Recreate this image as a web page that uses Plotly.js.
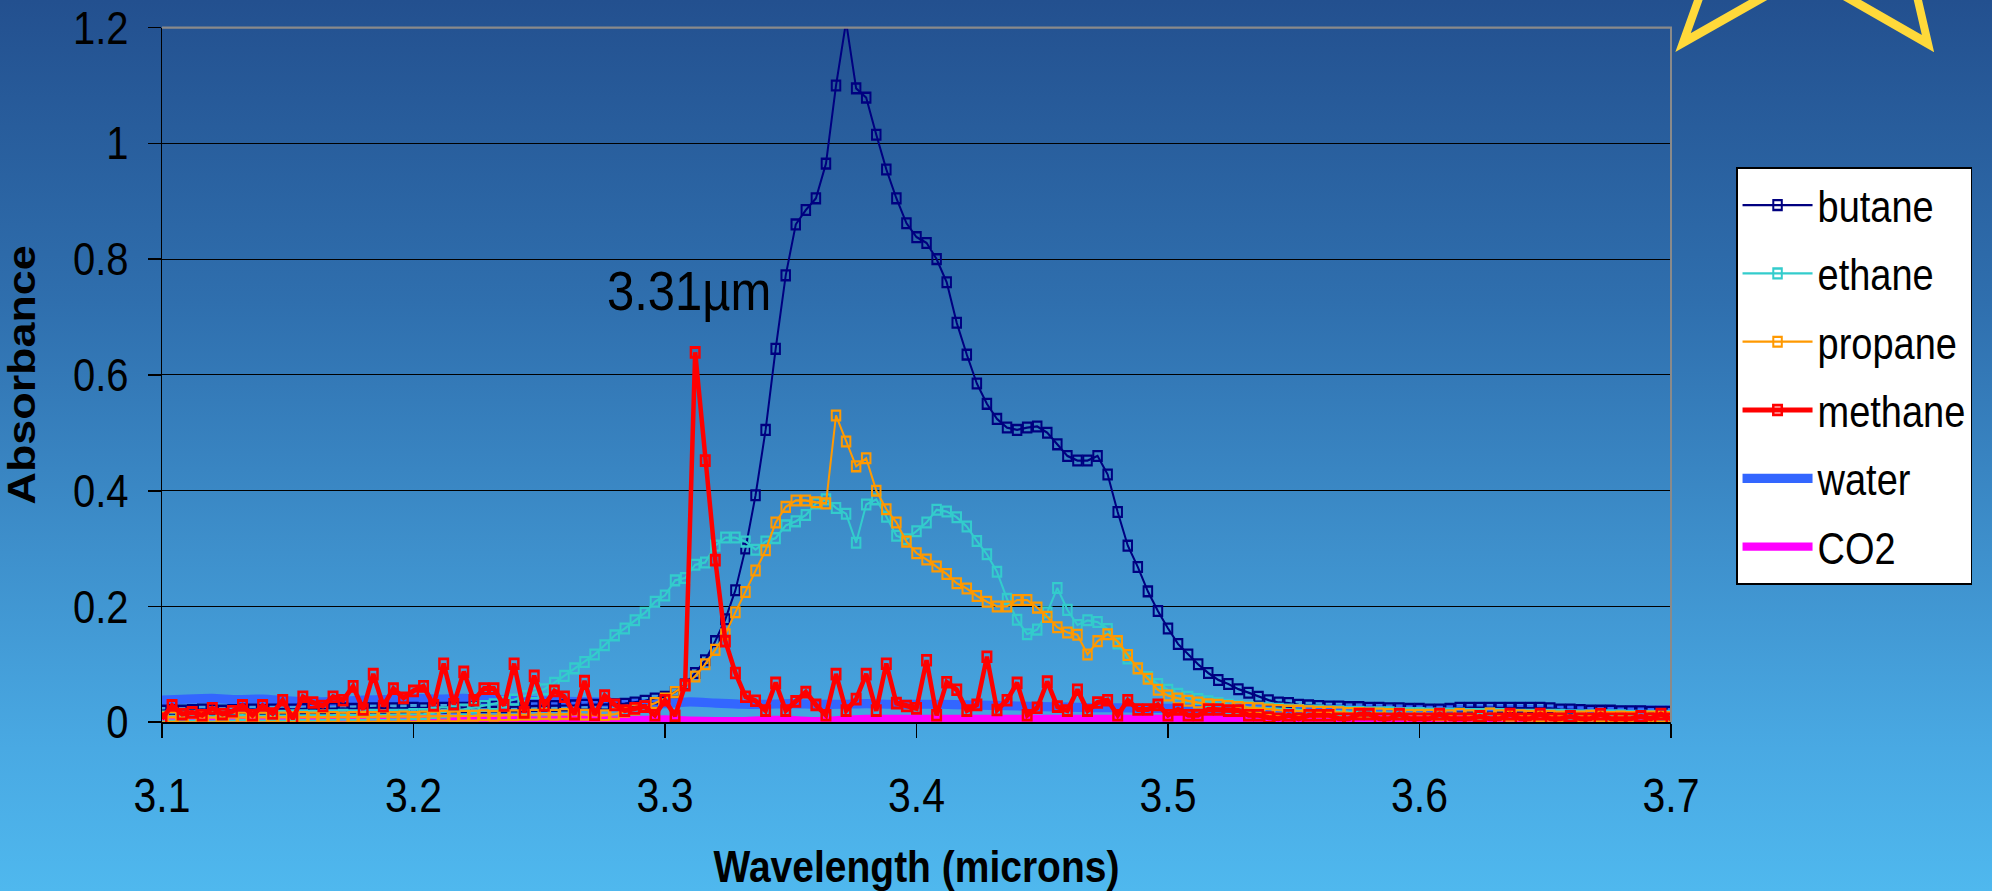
<!DOCTYPE html>
<html>
<head>
<meta charset="utf-8">
<script src="https://cdn.plot.ly/plotly-3.0.1.min.js"></script>
<style>
html,body{margin:0;padding:0;width:1992px;height:891px;overflow:hidden;
background:linear-gradient(to bottom,#23508f 0%,#2f6fae 34%,#3e90cc 62%,#49a9e3 84%,#4fb8ee 100%);}
#wrap{width:1992px;height:775px;transform:scaleY(1.15);transform-origin:0 0;}
</style>
</head>
<body>
<div id="wrap"><div id="chart"></div></div>
<script>
// ---- data ----
var wavelength = [
3.100,3.104,3.108,3.112,3.116,3.120,3.124,3.128,3.132,3.136,
3.140,3.144,3.148,3.152,3.156,3.160,3.164,3.168,3.172,3.176,
3.180,3.184,3.188,3.192,3.196,3.200,3.204,3.208,3.212,3.216,
3.220,3.224,3.228,3.232,3.236,3.240,3.244,3.248,3.252,3.256,
3.260,3.264,3.268,3.272,3.276,3.280,3.284,3.288,3.292,3.296,
3.300,3.304,3.308,3.312,3.316,3.320,3.324,3.328,3.332,3.336,
3.340,3.344,3.348,3.352,3.356,3.360,3.364,3.368,3.372,3.376,
3.380,3.384,3.388,3.392,3.396,3.400,3.404,3.408,3.412,3.416,
3.420,3.424,3.428,3.432,3.436,3.440,3.444,3.448,3.452,3.456,
3.460,3.464,3.468,3.472,3.476,3.480,3.484,3.488,3.492,3.496,
3.500,3.504,3.508,3.512,3.516,3.520,3.524,3.528,3.532,3.536,
3.540,3.544,3.548,3.552,3.556,3.560,3.564,3.568,3.572,3.576,
3.580,3.584,3.588,3.592,3.596,3.600,3.604,3.608,3.612,3.616,
3.620,3.624,3.628,3.632,3.636,3.640,3.644,3.648,3.652,3.656,
3.660,3.664,3.668,3.672,3.676,3.680,3.684,3.688,3.692,3.696,
3.700];

var butane = [
0.020,0.021,0.020,0.021,0.022,0.021,0.020,0.021,0.022,0.022,
0.021,0.022,0.023,0.022,0.023,0.024,0.023,0.024,0.024,0.023,
0.024,0.024,0.025,0.024,0.024,0.025,0.024,0.025,0.025,0.026,
0.025,0.026,0.026,0.027,0.026,0.027,0.027,0.028,0.028,0.028,
0.029,0.029,0.030,0.030,0.030,0.031,0.032,0.034,0.037,0.041,
0.044,0.052,0.065,0.085,0.107,0.140,0.178,0.228,0.300,0.392,
0.505,0.645,0.772,0.860,0.885,0.905,0.965,1.100,1.210,1.095,
1.079,1.015,0.955,0.905,0.862,0.838,0.828,0.800,0.760,0.690,
0.635,0.585,0.550,0.524,0.509,0.505,0.509,0.511,0.500,0.480,
0.460,0.452,0.452,0.460,0.428,0.363,0.305,0.268,0.226,0.192,
0.162,0.135,0.117,0.100,0.085,0.073,0.066,0.057,0.051,0.044,
0.038,0.034,0.033,0.030,0.029,0.028,0.027,0.027,0.026,0.026,
0.025,0.025,0.024,0.024,0.023,0.023,0.022,0.022,0.023,0.025,
0.025,0.025,0.025,0.025,0.025,0.025,0.025,0.025,0.024,0.022,
0.022,0.021,0.020,0.020,0.020,0.019,0.019,0.019,0.018,0.018,
0.018];

var ethane = [
0.010,0.011,0.010,0.011,0.011,0.010,0.011,0.011,0.012,0.011,
0.011,0.012,0.011,0.012,0.012,0.011,0.012,0.012,0.013,0.012,
0.012,0.013,0.012,0.013,0.013,0.014,0.014,0.016,0.017,0.019,
0.022,0.025,0.028,0.031,0.035,0.039,0.045,0.050,0.057,0.068,
0.080,0.093,0.104,0.117,0.133,0.150,0.162,0.176,0.189,0.208,
0.219,0.245,0.249,0.272,0.276,0.305,0.319,0.319,0.312,0.298,
0.312,0.318,0.340,0.347,0.358,0.378,0.385,0.370,0.360,0.310,
0.376,0.385,0.355,0.322,0.316,0.330,0.345,0.367,0.364,0.354,
0.338,0.313,0.290,0.260,0.213,0.177,0.152,0.160,0.190,0.232,
0.194,0.168,0.176,0.173,0.161,0.136,0.110,0.093,0.078,0.066,
0.056,0.049,0.044,0.040,0.036,0.033,0.030,0.028,0.026,0.025,
0.024,0.023,0.022,0.021,0.020,0.020,0.019,0.019,0.018,0.018,
0.017,0.017,0.017,0.016,0.016,0.016,0.015,0.015,0.015,0.015,
0.014,0.014,0.015,0.014,0.014,0.013,0.013,0.013,0.013,0.013,
0.012,0.012,0.012,0.012,0.012,0.012,0.011,0.011,0.011,0.011,
0.011];

var propane = [
0.008,0.009,0.008,0.008,0.009,0.008,0.009,0.008,0.008,0.009,
0.008,0.009,0.008,0.009,0.009,0.008,0.009,0.009,0.008,0.009,
0.009,0.009,0.010,0.009,0.010,0.009,0.010,0.010,0.011,0.010,
0.011,0.011,0.012,0.011,0.012,0.012,0.013,0.013,0.014,0.013,
0.014,0.014,0.013,0.012,0.012,0.014,0.018,0.022,0.027,0.033,
0.041,0.052,0.064,0.079,0.100,0.125,0.152,0.190,0.225,0.262,
0.297,0.345,0.372,0.383,0.383,0.380,0.378,0.530,0.485,0.442,
0.456,0.400,0.368,0.345,0.312,0.292,0.281,0.269,0.256,0.240,
0.231,0.218,0.208,0.200,0.200,0.211,0.211,0.198,0.182,0.164,
0.155,0.151,0.117,0.140,0.152,0.140,0.116,0.093,0.075,0.056,
0.046,0.041,0.037,0.034,0.031,0.030,0.028,0.026,0.025,0.024,
0.022,0.021,0.020,0.020,0.019,0.018,0.018,0.017,0.016,0.016,
0.015,0.015,0.014,0.014,0.013,0.013,0.013,0.012,0.012,0.014,
0.012,0.011,0.015,0.012,0.011,0.012,0.011,0.010,0.011,0.010,
0.010,0.010,0.011,0.010,0.009,0.010,0.009,0.009,0.010,0.009,
0.009];

var methane = [
0.006,0.029,0.014,0.017,0.012,0.024,0.014,0.019,0.029,0.012,
0.029,0.015,0.038,0.006,0.044,0.034,0.028,0.044,0.038,0.062,
0.022,0.083,0.028,0.058,0.042,0.054,0.062,0.029,0.101,0.031,
0.087,0.038,0.058,0.058,0.029,0.101,0.017,0.080,0.029,0.054,
0.044,0.014,0.071,0.013,0.046,0.030,0.020,0.024,0.027,0.012,
0.038,0.011,0.064,0.639,0.452,0.280,0.140,0.085,0.044,0.037,
0.020,0.068,0.020,0.036,0.052,0.030,0.012,0.083,0.020,0.040,
0.083,0.020,0.101,0.033,0.028,0.024,0.107,0.012,0.069,0.056,
0.020,0.030,0.113,0.021,0.038,0.068,0.012,0.025,0.070,0.027,
0.020,0.056,0.020,0.034,0.038,0.012,0.038,0.022,0.022,0.030,
0.012,0.022,0.012,0.012,0.022,0.022,0.020,0.020,0.012,0.012,
0.008,0.006,0.012,0.006,0.012,0.012,0.012,0.006,0.006,0.014,
0.014,0.006,0.006,0.014,0.006,0.006,0.006,0.014,0.006,0.006,
0.006,0.010,0.006,0.006,0.014,0.006,0.006,0.014,0.006,0.006,
0.010,0.006,0.006,0.014,0.006,0.006,0.006,0.010,0.006,0.014,
0.006];

var wavelengthCoarse = [
3.10,3.11,3.12,3.13,3.14,3.15,3.16,3.17,3.18,3.19,
3.20,3.21,3.22,3.23,3.24,3.25,3.26,3.27,3.28,3.29,
3.30,3.31,3.32,3.33,3.34,3.35,3.36,3.37,3.38,3.39,
3.40,3.41,3.42,3.43,3.44,3.45,3.46,3.47,3.48,3.49,
3.50,3.51,3.52,3.53,3.54,3.55,3.56,3.57,3.58,3.59,
3.60,3.61,3.62,3.63,3.64,3.65,3.66,3.67,3.68,3.69,
3.70];

var water = [
0.038,0.040,0.041,0.039,0.040,0.037,0.035,0.036,0.038,0.039,
0.041,0.040,0.041,0.039,0.038,0.037,0.036,0.035,0.034,0.032,
0.032,0.035,0.033,0.031,0.031,0.032,0.031,0.031,0.032,0.031,
0.031,0.031,0.030,0.029,0.028,0.027,0.026,0.025,0.025,0.024,
0.024,0.024,0.024,0.024,0.023,0.023,0.023,0.023,0.023,0.022,
0.022,0.022,0.022,0.022,0.022,0.021,0.021,0.021,0.021,0.021,
0.021];

var co2 = [
0.004,0.005,0.004,0.005,0.006,0.005,0.004,0.005,0.006,0.006,
0.005,0.006,0.006,0.005,0.004,0.003,0.004,0.005,0.003,0.004,
0.005,0.003,0.002,0.002,0.004,0.004,0.002,0.004,0.006,0.006,
0.006,0.006,0.006,0.006,0.006,0.006,0.006,0.006,0.006,0.006,
0.006,0.006,0.005,0.006,0.006,0.005,0.003,0.006,0.006,0.006,
0.006,0.006,0.004,0.003,0.005,0.006,0.004,0.006,0.006,0.005,
0.006];

var seriesNames = ['butane','ethane','propane','methane','water','CO2'];
var xTickLabels = ['3.1','3.2','3.3','3.4','3.5','3.6','3.7'];
var xTickValues = [3.1,3.2,3.3,3.4,3.5,3.6,3.7];
var peakLabel = '3.31µm';
var peakLabelPos = [3.3095, 0.746];

// ---- chart ----
var FONT = '"Liberation Sans", Arial, Helvetica, sans-serif';

function markerTrace(name, y, color, lw, mlw, rank) {
  return {
    type:'scatter', mode:'lines+markers', name:name, x:wavelength, y:y,
    legendgroup:name, legendrank:rank,
    line:{color:color, width:lw},
    marker:{symbol:'square-open', size:8.5, color:color, line:{color:color, width:mlw}}
  };
}

var data = [
  {type:'scatter', mode:'lines', name:seriesNames[4], x:wavelengthCoarse, y:water,
   legendgroup:'water', legendrank:5, line:{color:'#3366FF', width:8, shape:'spline', smoothing:0.6}},
  {type:'scatter', mode:'lines', name:seriesNames[5], x:wavelengthCoarse, y:co2,
   legendgroup:'co2', legendrank:6, line:{color:'#FF00FF', width:7, shape:'spline', smoothing:0.6}},
  markerTrace(seriesNames[0], butane, '#000080', 2, 2, 1),
  markerTrace(seriesNames[1], ethane, '#33CCCC', 2, 2, 2),
  markerTrace(seriesNames[2], propane, '#FF9900', 2, 2, 3),
  markerTrace(seriesNames[3], methane, '#FF0000', 4.5, 2.5, 4)
];

var layout = {
  width:1992, height:775,
  margin:{l:162, r:321, t:23.5, b:147.2, pad:0},
  paper_bgcolor:'rgba(0,0,0,0)', plot_bgcolor:'rgba(0,0,0,0)',
  font:{family:FONT, color:'#000'},
  showlegend:true,
  legend:{x:1.0431, xanchor:'left', y:0.7986, yanchor:'top',
          bgcolor:'#ffffff', bordercolor:'#000000', borderwidth:1.5,
          font:{family:FONT, size:38, color:'#000'},
          itemwidth:70, tracegroupgap:7, traceorder:'grouped'},
  xaxis:{range:[3.1,3.7], tickmode:'array', tickvals:xTickValues, ticktext:xTickLabels,
         ticks:'outside', ticklen:12, tickwidth:1.5, tickcolor:'#000',
         showline:true, linecolor:'#000', linewidth:1.5, showgrid:false, zeroline:false,
         tickfont:{family:FONT, size:41, color:'#000'}, ticklabelstandoff:15,
         automargin:false,
         title:{text:'Wavelength (microns)', standoff:39,
                font:{family:FONT, size:39, weight:'bold', color:'#000'}}},
  yaxis:{range:[0,1.2], dtick:0.2, tick0:0,
         ticks:'outside', ticklen:13, tickwidth:1.5, tickcolor:'#000',
         showline:true, linecolor:'#000', linewidth:1.5,
         showgrid:true, gridcolor:'#000', gridwidth:1, zeroline:false,
         tickfont:{family:FONT, size:40, color:'#000'}, ticklabelstandoff:11,
         automargin:false,
         title:{text:'Absorbance', standoff:25,
                font:{family:FONT, size:39, weight:'bold', color:'#000'}}},
  annotations:[{x:peakLabelPos[0], y:peakLabelPos[1], xref:'x', yref:'y', text:peakLabel,
                showarrow:false, xanchor:'center', yanchor:'middle',
                font:{family:FONT, size:49, color:'#000'}}],
  shapes:[
    {type:'path', xref:'paper', yref:'paper', path:'M0,1 L1,1 L1,0',
     line:{color:'#8a8a8a', width:2}, layer:'above'},
    {type:'path', xref:'paper', yref:'paper', path:'M1.0215,1.0604 L1.0080,0.9785 L1.0745,1.0604',
     line:{color:'#FFD93A', width:8}, layer:'above'},
    {type:'path', xref:'paper', yref:'paper', path:'M1.1033,1.0604 L1.1703,0.9770 L1.1614,1.0604',
     line:{color:'#FFD93A', width:8}, layer:'above'}
  ]
};

Plotly.newPlot('chart', data, layout, {staticPlot:true, displayModeBar:false});
</script>
</body>
</html>
